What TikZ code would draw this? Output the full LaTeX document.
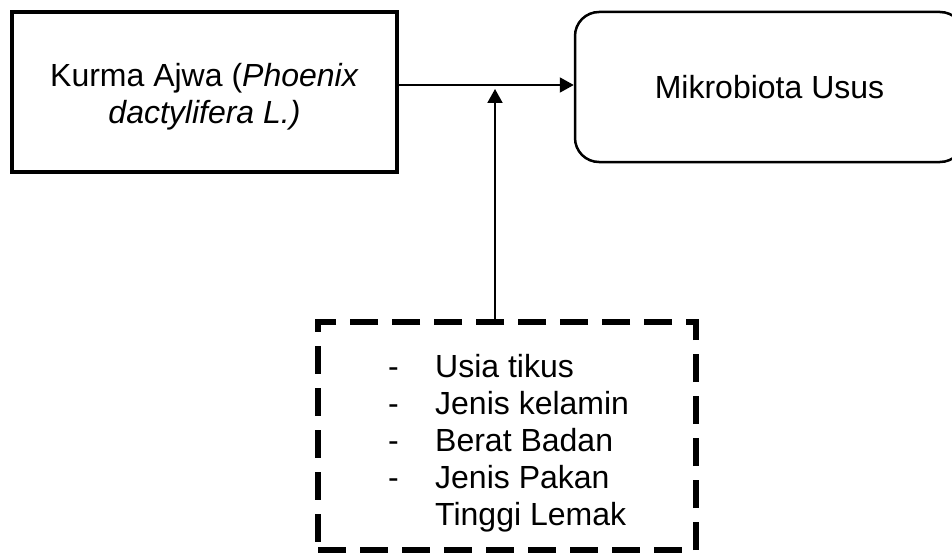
\documentclass[tikz,border=0pt]{standalone}
\usepackage{fontspec}
\setmainfont{Liberation Sans}
\usetikzlibrary{arrows.meta}
\begin{document}
\begin{tikzpicture}[x=1pt,y=-1pt,
  txt/.style={font=\fontsize{32}{37}\selectfont, inner sep=0pt},
  solidbox/.style={draw, line width=3.5pt, minimum width=385pt, minimum height=160pt},
  roundbox/.style={draw, line width=2.5pt, rounded corners=24pt, minimum width=389pt, minimum height=150pt},
  dashbox/.style={draw, line width=5.5pt, dash pattern=on 28pt off 14pt, minimum width=378pt, minimum height=228pt},
  conn/.style={line width=2pt, -{Triangle[length=14pt,width=15pt]}}]
\useasboundingbox (0,0) rectangle (952,559);
\node[solidbox] (kurma) at (204.5,92) {};
\node[txt, align=center] (ktext) at (204.5,96.5) {Kurma Ajwa (\textit{Phoenix}\\\textit{dactylifera L.)}};
\node[roundbox, txt] (mikro) at (769.5,87) {Mikrobiota Usus};
\node[dashbox] (faktor) at (507,436) {};
\node[txt, align=left, anchor=west] (flist) at (388,443.5) {\makebox[47pt][l]{-}Usia tikus\\\makebox[47pt][l]{-}Jenis kelamin\\\makebox[47pt][l]{-}Berat Badan\\\makebox[47pt][l]{-}Jenis Pakan\\\hspace*{47pt}Tinggi Lemak};
\coordinate (j) at (495,85);
\coordinate (jt) at (495,89);
\draw[conn] (kurma.east |- j) -- (mikro.west |- j);
\draw[conn] (j |- faktor.north) -- (jt);
\end{tikzpicture}
\end{document}
